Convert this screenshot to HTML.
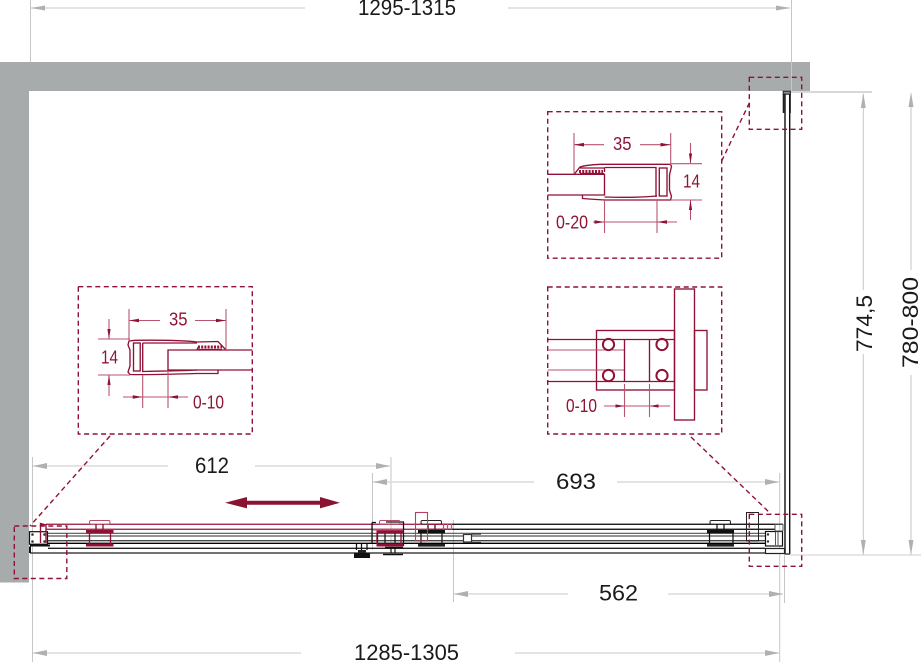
<!DOCTYPE html>
<html><head><meta charset="utf-8"><style>
html,body{margin:0;padding:0;background:#fff;width:921px;height:662px;overflow:hidden}
svg{display:block}
text{font-family:"Liberation Sans",sans-serif;}
.k{fill:#1a1a1a;font-size:22.5px}
.r{fill:#8f1535;font-size:18.5px}
.dash{fill:none;stroke:#8f1236;stroke-width:1.4;stroke-dasharray:5 3.5}
.ext{stroke:#c6c6c6;stroke-width:1;fill:none}
.dim{stroke:#dcdcdc;stroke-width:1.6;fill:none}
.ah{fill:#b0b0b0}
.m{stroke:#8f1236;stroke-width:1.35;fill:none}
.l{stroke:#b9566f;stroke-width:1.1;fill:none}
.rf{fill:#8f1236}
.b{stroke:#111;stroke-width:1.25;fill:none}
</style></head><body>
<svg width="921" height="662" viewBox="0 0 921 662" xmlns="http://www.w3.org/2000/svg">
<path d="M0 62H810V91H29V582.5H0Z" fill="#a7abab"/>

<!-- extension lines -->
<path class="ext" d="M30.5 0V62M791.5 0V91M32.5 457V662M391 457V545M372.5 473V550M453.5 520V602M779.7 473V662M784.5 545V603M863.3 94V290M863.3 354V555M911 94V270M911 375V555"/>
<path d="M790 92H872" stroke="#d8d8d8" stroke-width="2" fill="none"/>
<path d="M790 555H921" stroke="#cfcfcf" stroke-width="1" fill="none"/>
<!-- dimension lines -->
<path class="dim" d="M31 8H305M508 8H790M33 466H168M255 466H390M373 482H534M617 482H779M454 594H568M668 594H783M33 653H301M515 653H779"/>
<g class="ah">
<path d="M31 8l14-2.5v5zM790 8l-14-2.5v5z"/>
<path d="M33 466l14-3v6zM390 466l-14-3v6z"/>
<path d="M373 482l14-3v6zM779 482l-14-3v6z"/>
<path d="M454 594l14-3v6zM783 594l-14-3v6z"/>
<path d="M33 653l14-3v6zM779 653l-14-3v6z"/>
<path d="M863.3 93l-2.5 15h5zM863.3 555l-2.5-15h5zM911 92l-2.5 15h5zM911 555l-2.5-15h5z"/>
</g>
<!-- big labels -->
<text class="k" x="358" y="15" textLength="98" lengthAdjust="spacingAndGlyphs">1295-1315</text>
<text class="k" x="195" y="473" textLength="34" lengthAdjust="spacingAndGlyphs">612</text>
<text class="k" x="556" y="489" textLength="40" lengthAdjust="spacingAndGlyphs">693</text>
<text class="k" x="599" y="600.5" textLength="39" lengthAdjust="spacingAndGlyphs">562</text>
<text class="k" x="354" y="660" textLength="105" lengthAdjust="spacingAndGlyphs">1285-1305</text>
<text class="k" transform="translate(872 352) rotate(-90)" textLength="57" lengthAdjust="spacingAndGlyphs">774,5</text>
<text class="k" transform="translate(918 368) rotate(-90)" textLength="91" lengthAdjust="spacingAndGlyphs">780-800</text>

<!-- vertical panel -->
<path d="M785 93V554" stroke="#444" stroke-width="1.8" fill="none"/>
<path d="M789.7 93V554" stroke="#111" stroke-width="1.4" fill="none"/>
<path d="M785 554H790" stroke="#333" stroke-width="1.4"/>
<rect x="783.2" y="91.2" width="7.2" height="3" fill="#8a8a8a" stroke="#222" stroke-width="1"/>
<path d="M783.7 94V113" stroke="#222" stroke-width="2" fill="none"/>
<path d="M790.2 94V113" stroke="#111" stroke-width="1.2" fill="none"/>

<!-- door horizontal lines -->
<path d="M47 533.3H765M47 536H765" stroke="#555" stroke-width="1.2" fill="none"/>
<path d="M47 540.7H765" stroke="#444" stroke-width="1.3" fill="none"/>
<path d="M47 543.3H765" stroke="#000" stroke-width="1.3" fill="none"/>
<path d="M48 548.3H765" stroke="#222" stroke-width="1.3" fill="none"/>
<path d="M30 553H765" stroke="#444" stroke-width="1.6" fill="none"/>
<path d="M452 524.3H783M452 529.3H775" stroke="#000" stroke-width="1.25" fill="none"/>
<path d="M46 524.3H452M46 529.3H452" stroke="#96153a" stroke-width="1.25" fill="none"/>

<!-- left end -->
<rect x="29.5" y="531.7" width="18" height="12.5" fill="#fff" stroke="#111" stroke-width="1.2"/>
<circle cx="32.5" cy="534.5" r="1.3" fill="#333"/><circle cx="32.5" cy="541.5" r="1.3" fill="#333"/>
<circle cx="44.5" cy="534.5" r="1.3" fill="#333"/><circle cx="44.5" cy="541.5" r="1.3" fill="#333"/>
<path d="M30 545.5H50M30 546.5V553" stroke="#111" stroke-width="2" fill="none"/>
<path d="M40.5 543V523.5L46 525" class="m"/><path d="M46 524V543" class="m"/>
<path class="rf" d="M40.5 523l5.5 1.5-5.5 2z"/>

<!-- red roller 1 -->
<g>
<rect x="89.5" y="520.5" width="20.5" height="3.6" rx="1.4" fill="#fff" stroke="#b5506c"/>
<path class="m" d="M96 524V530M103 524V530M89.5 533V544M110.5 533V544"/>
<rect class="rf" x="86" y="530" width="27.5" height="3.5"/>
<rect class="rf" x="86" y="543.5" width="27.5" height="3"/>
</g>
<!-- mid black frame and red roller -->
<path class="b" d="M372 522.5V543M372 522.5H376M386 522H403.5V546"/>
<path class="b" d="M377.5 533V545M385 533V546M395 533V546"/>
<path d="M385 547.5H403" stroke="#111" stroke-width="1.6"/>
<path d="M391 548V553M395 548V553" stroke="#111" stroke-width="1.2"/>
<path d="M383 554.5H403" stroke="#111" stroke-width="1.6"/>
<rect x="379.5" y="520.5" width="20.5" height="3.6" rx="1.4" fill="none" stroke="#b5506c"/>
<path class="m" d="M377 533V544M401 533V544"/>
<rect class="rf" x="376.5" y="530" width="27" height="3.5"/>
<rect class="rf" x="376.5" y="543.5" width="27" height="3"/>
<rect x="373" y="528.5" width="30" height="2" fill="#b5506c"/>
<!-- knob -->
<path class="b" d="M356.5 543.5V550M361.5 543.5V550M367 543.5V550"/>
<rect x="358" y="550" width="8" height="3" fill="#222"/>
<rect x="354" y="553" width="16" height="5" fill="#111"/>

<!-- black roller mid -->
<rect x="421" y="520.5" width="20.5" height="3.6" rx="1.4" fill="#fff" stroke="#222"/>
<path class="b" d="M428 524V530M435 524V530M421 533V544M442 533V544"/>
<rect x="418" y="530" width="27" height="3.3" fill="#111"/>
<rect x="418" y="544" width="27" height="2.6" fill="#222"/>
<rect x="415.5" y="512.5" width="12" height="28.5" fill="none" stroke="#b8405f" stroke-width="1.1"/>
<path d="M428 524.3H452M428 529.3H452" stroke="#96153a" stroke-width="1.25"/>
<path d="M443.5 524V529.5M447.5 524V529.5M451.5 524V529.5" stroke="#b9566f" stroke-width="1.3"/>
<!-- small element -->
<rect x="463.5" y="534.5" width="8" height="7.5" fill="#fff" stroke="#333" stroke-width="1.2"/>
<path d="M471.5 534H481M471.5 542.5H481" stroke="#333" stroke-width="1.3"/>

<!-- right black roller -->
<rect x="710" y="520.5" width="20.5" height="3.6" rx="1.4" fill="#fff" stroke="#222"/>
<path class="b" d="M717 524V530M724 524V530M709.5 533V544M733 533V544"/>
<rect x="707" y="530" width="27" height="3.3" fill="#111"/>
<rect x="707" y="544" width="27" height="2.6" fill="#222"/>
<!-- right end -->
<rect x="746.5" y="512.5" width="12" height="28.5" fill="none" stroke="#222" stroke-width="1"/>
<rect x="765.5" y="531.5" width="17" height="14.5" fill="#fff" stroke="#111" stroke-width="1.2"/>
<circle cx="768" cy="534.5" r="1.2" fill="#333"/><circle cx="768" cy="541.5" r="1.2" fill="#333"/>
<path d="M775.5 532V545M778 532V545" stroke="#555" stroke-width="1"/>
<rect x="765.5" y="548.5" width="19" height="5" fill="#fff" stroke="#222" stroke-width="1.2"/>
<rect x="775" y="524" width="8" height="7" rx="1" fill="none" stroke="#555"/>

<!-- big arrow -->
<path d="M225 502.7l22-5.7v3.7h73v-3.7l20 5.7-20 5.7v-3.7h-73v3.7z" fill="#8a1333"/>

<!-- dashed boxes -->
<rect class="dash" x="547.7" y="111.7" width="174" height="146.5"/>
<rect class="dash" x="749.3" y="77.3" width="52.4" height="52"/>
<path class="dash" d="M721.7 161L749.3 103"/>
<rect class="dash" x="547.7" y="287" width="174" height="147"/>
<rect class="dash" x="78.3" y="286.7" width="174" height="147.3"/>
<rect class="dash" x="14.3" y="526" width="52.5" height="52.5"/>
<rect class="dash" x="749.3" y="514.3" width="52.4" height="52"/>
<path class="dash" d="M110 436L30 526"/>
<path class="dash" d="M691 437L771 514"/>

<!-- Detail A -->
<g>
<path class="m" d="M547.7 174.3H604.5V195H547.7"/>
<path class="m" d="M574 174.5L580 167C583 166 590 164.8 600 164.3H670.5L671.5 166.5L669.5 175V190L671.5 196.5L670.5 200H605C595 199.5 588 199 582.5 198.5V195.5"/>
<path class="m" d="M604.5 167.5V172M604.5 167.5H656V197M580 168H604M604.5 197C620 197.5 640 197.5 657 196"/>
<rect class="m" x="659.3" y="168" width="7.7" height="28"/>
<path d="M579 171.5H603" stroke="#96153a" stroke-width="3" stroke-dasharray="2 1.2" fill="none"/>
<path d="M580 173.5H604" class="m"/>
<path class="l" d="M574 133V174M670.7 133V165M671 163.7H702M671 200H702M604.5 200V233M657 200V233"/>
<path class="l" d="M574 144.7H604M640 144.7H670.5M690.5 143V163M690.5 200V220M593 222H677"/>
<path class="rf" d="M574 144.7l10-1.8v3.6zM670.5 144.7l-10-1.8v3.6zM690.5 163.5l-1.6-10h3.2zM690.5 200l-1.6 10h3.2zM604.5 222l-10-1.8v3.6zM657 222l10-1.8v3.6z"/>
<text class="r" x="613" y="150" textLength="18.5" lengthAdjust="spacingAndGlyphs">35</text>
<text class="r" x="683" y="187.5" textLength="17" lengthAdjust="spacingAndGlyphs">14</text>
<text class="r" x="556" y="228.5" textLength="32" lengthAdjust="spacingAndGlyphs">0-20</text>
</g>

<!-- Detail B -->
<g>
<rect class="m" x="596.5" y="330.5" width="78" height="59.5"/>
<rect class="m" x="674.5" y="289" width="20" height="131"/>
<rect class="m" x="694.5" y="330.5" width="12.5" height="59.5"/>
<path class="m" d="M547.7 339.5H674.5M596.5 381.5H674.5M547.7 381.5H596.5"/>
<path class="l" d="M547.7 350H624.5M547.7 370H624.5"/>
<path class="m" d="M624.5 339.5V381.5M649.5 339.5V381.5"/>
<path class="l" d="M624.5 384V417M649.5 384V417M604 406H670"/>
<path class="rf" d="M624.5 406l-9-1.6v3.2zM649.5 406l9-1.6v3.2z"/>
<g class="m" style="stroke-width:2"><circle cx="608.5" cy="344.5" r="5.6"/><circle cx="662" cy="344.5" r="5.6"/><circle cx="608.5" cy="375.5" r="5.6"/><circle cx="662" cy="375.5" r="5.6"/></g>
<text class="r" x="566" y="412" textLength="31" lengthAdjust="spacingAndGlyphs">0-10</text>
</g>

<!-- Detail C -->
<g>
<path class="m" d="M252.3 350H168V370H252.3"/>
<path class="m" d="M226 350L218 341.5L197 342C185 340.5 160 340 135 340.3L129 341L128 345L130 350V366L128 372L130 374.5C150 375 180 374 197 373.5H218V370"/>
<path class="m" d="M197 349.5L199 346M222 349.5H197M142.7 343V371.5C160 371 180 371 197 370M142.7 343H197"/>
<path d="M198 347H222" stroke="#96153a" stroke-width="3" stroke-dasharray="2 1.2" fill="none"/>
<rect class="m" x="133.5" y="343" width="6.7" height="28"/>
<path class="l" d="M129 309V340M226 309V350M98 339H130M98 375H130M142.7 375V408M168 372V408"/>
<path class="l" d="M129 320.5H160M195 320.5H226M109 319V339M109 375V396M123 397H188"/>
<path class="rf" d="M129 320.5l10-1.8v3.6zM226 320.5l-10-1.8v3.6zM109 339l-1.6-10h3.2zM109 375l-1.6 10h3.2zM142.7 397l-10-1.8v3.6zM168 397l10-1.8v3.6z"/>
<text class="r" x="169" y="325.5" textLength="18.5" lengthAdjust="spacingAndGlyphs">35</text>
<text class="r" x="101" y="363.5" textLength="17" lengthAdjust="spacingAndGlyphs">14</text>
<text class="r" x="193" y="408.5" textLength="31" lengthAdjust="spacingAndGlyphs">0-10</text>
</g>
</svg>
</body></html>
